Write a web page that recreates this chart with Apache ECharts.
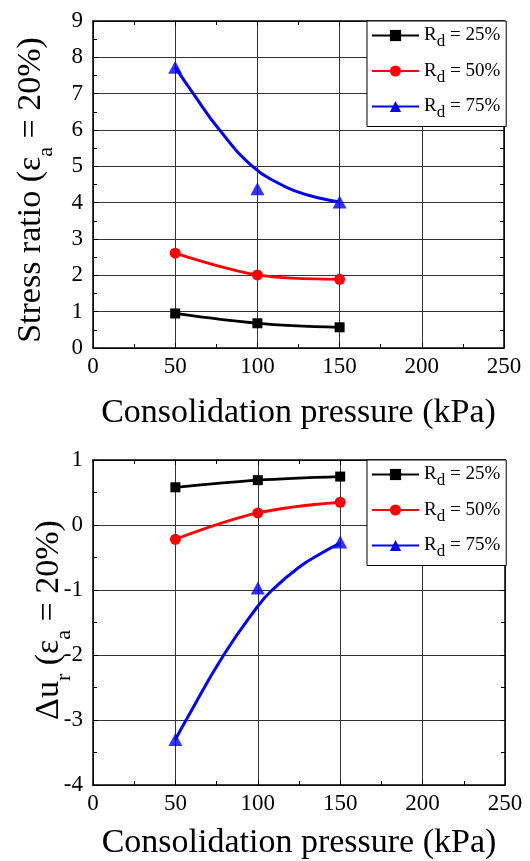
<!DOCTYPE html>
<html><head><meta charset="utf-8">
<script src="https://cdn.jsdelivr.net/npm/echarts@6/dist/echarts.min.js"></script>
<style>html,body{margin:0;padding:0;background:#fff}#c{width:530px;height:861px}</style>
</head><body><div id="c"></div>
<script>
// ---- data ----
const pressure = [50, 100, 150];
const seriesNames = ['Rd = 25%', 'Rd = 50%', 'Rd = 75%'];
const stressRd25 = [0.95, 0.68, 0.57];
const stressRd50 = [2.61, 2.01, 1.89];
const stressRd75 = [7.73, 4.38, 4.02];
const stressFitX = [50, 61, 77, 97, 112.5, 125, 137.5, 150];
const stressFit75 = [7.73, 7.0, 6.0, 5.0, 4.54, 4.29, 4.13, 4.02];
const duRd25 = [0.58, 0.69, 0.745];
const duRd50 = [-0.22, 0.185, 0.35];
const duRd75 = [-3.30, -0.97, -0.26];
const duFitX = [50, 56.5, 79.3, 100, 108.7, 125, 137.5, 150];
const duFit75 = [-3.30, -3.0, -2.0, -1.25, -1.0, -0.65, -0.45, -0.28];

const FONT = 'Liberation Serif';
const pairs = (xs, ys) => xs.map((x, i) => [x, ys[i]]);

function xAxisPair(gridIndex, gap) {
  return [{
    type: 'value', gridIndex, min: 0, max: 250, interval: 50, position: 'bottom',
    name: 'Consolidation pressure (kPa)', nameLocation: 'middle', nameGap: gap,
    nameTextStyle: { fontFamily: FONT, fontSize: 34, color: '#000' },
    axisLine: { show: true, onZero: false, lineStyle: { color: '#000', width: 1.5 } },
    axisTick: { show: true, inside: true, length: 5, lineStyle: { color: '#000' } },
    minorTick: { show: true, splitNumber: 2, length: 4, lineStyle: { color: '#000' } },
    axisLabel: { fontFamily: FONT, fontSize: 23, color: '#000', margin: 7 },
    splitLine: { show: true, lineStyle: { color: '#333', width: 1 } }
  }, {
    type: 'value', gridIndex, min: 0, max: 250, interval: 50, position: 'top',
    axisLine: { show: true, onZero: false, lineStyle: { color: '#000', width: 1.5 } },
    axisTick: { show: true, inside: true, length: 5, lineStyle: { color: '#000' } },
    minorTick: { show: true, splitNumber: 2, length: 4, lineStyle: { color: '#000' } },
    axisLabel: { show: false }, splitLine: { show: false }
  }];
}
function yAxisPair(gridIndex, min, max) {
  return [{
    type: 'value', gridIndex, min, max, interval: 1, position: 'left',
    axisLine: { show: true, onZero: false, lineStyle: { color: '#000', width: 1.5 } },
    axisTick: { show: true, inside: true, length: 5, lineStyle: { color: '#000' } },
    minorTick: { show: true, splitNumber: 2, length: 4, lineStyle: { color: '#000' } },
    axisLabel: { fontFamily: FONT, fontSize: 23, color: '#000', margin: 10 },
    splitLine: { show: true, lineStyle: { color: '#333', width: 1 } }
  }, {
    type: 'value', gridIndex, min, max, interval: 1, position: 'right',
    axisLine: { show: true, onZero: false, lineStyle: { color: '#000', width: 1.5 } },
    axisTick: { show: true, inside: true, length: 5, lineStyle: { color: '#000' } },
    minorTick: { show: true, splitNumber: 2, length: 4, lineStyle: { color: '#000' } },
    axisLabel: { show: false }, splitLine: { show: false }
  }];
}
function legendFor(top) {
  return {
    orient: 'vertical', left: 367, top, data: seriesNames,
    itemWidth: 47, itemHeight: 14, itemGap: 11,
    padding: [5, 6, 5, 4], borderColor: '#000', borderWidth: 1, backgroundColor: '#fff',
    borderRadius: 0, selectedMode: false,
    formatter: n => '{m|R}{s|d}{m|' + n.slice(2) + '}',
    textStyle: {
      fontFamily: FONT, fontSize: 19, color: '#000',
      rich: {
        m: { fontFamily: FONT, fontSize: 19, color: '#000' },
        s: { fontFamily: FONT, fontSize: 17, color: '#000', padding: [13, 0, 0, 0] }
      }
    }
  };
}
function yTitle(x, y, text, subPad) {
  return {
    type: 'text', x, y, rotation: Math.PI / 2, z: 10,
    style: {
      text, x: 0, y: 0, align: 'center', verticalAlign: 'middle',
      fontFamily: FONT, fontSize: 34, fill: '#000',
      rich: {
        m: { fontFamily: FONT, fontSize: 34, fill: '#000' },
        s: { fontFamily: FONT, fontSize: 22, fill: '#000', padding: [subPad, 0, 0, 0] }
      }
    }
  };
}
function lineSeries(name, xi, yi, data, color, symbol, size) {
  return {
    type: 'line', name, xAxisIndex: xi, yAxisIndex: yi, data,
    smooth: 0.35, symbol, symbolSize: size, showSymbol: true,
    lineStyle: { color, width: 2.8 }, itemStyle: { color }, z: 3
  };
}
function fitSeries(name, xi, yi, data, color) {
  return {
    type: 'line', name, xAxisIndex: xi, yAxisIndex: yi, data,
    smooth: 0.5, symbol: 'triangle', symbolSize: 13, showSymbol: false,
    lineStyle: { color, width: 3 }, itemStyle: { color }, z: 3
  };
}
function markerSeries(xi, yi, data, color) {
  return {
    type: 'scatter', name: 'Rd = 75% data', xAxisIndex: xi, yAxisIndex: yi, data,
    symbol: 'triangle', symbolSize: [14, 13], itemStyle: { color }, z: 4
  };
}

const chart = echarts.init(document.getElementById('c'), null, { renderer: 'canvas' });
chart.setOption({
  backgroundColor: '#fff',
  animation: false,
  textStyle: { fontFamily: FONT, color: '#000' },
  grid: [
    { left: 93, top: 21, width: 411, height: 327 },
    { left: 93, top: 460, width: 412, height: 327 }
  ],
  xAxis: [...xAxisPair(0, 48), ...xAxisPair(1, 41)],
  yAxis: [...yAxisPair(0, 0, 9), ...yAxisPair(1, -4, 1)],
  legend: [legendFor(21), legendFor(460)],
  graphic: [
    yTitle(31, 190, '{m|Stress ratio (ε}{s|a}{m| = 20%)}', 30),
    yTitle(49, 620, '{m|Δu}{s|r}{m| (ε}{s|a}{m| = 20%)}', 30)
  ],
  series: [
    lineSeries(seriesNames[0], 0, 0, pairs(pressure, stressRd25), '#000000', 'rect', 10),
    lineSeries(seriesNames[1], 0, 0, pairs(pressure, stressRd50), '#ff0000', 'circle', 11),
    fitSeries(seriesNames[2], 0, 0, pairs(stressFitX, stressFit75), '#0000ff'),
    markerSeries(0, 0, pairs(pressure, stressRd75), '#0000ff'),
    lineSeries(seriesNames[0], 2, 2, pairs(pressure, duRd25), '#000000', 'rect', 10),
    lineSeries(seriesNames[1], 2, 2, pairs(pressure, duRd50), '#ff0000', 'circle', 11),
    fitSeries(seriesNames[2], 2, 2, pairs(duFitX, duFit75), '#0000ff'),
    markerSeries(2, 2, pairs(pressure, duRd75), '#0000ff')
  ]
});
</script></body></html>
